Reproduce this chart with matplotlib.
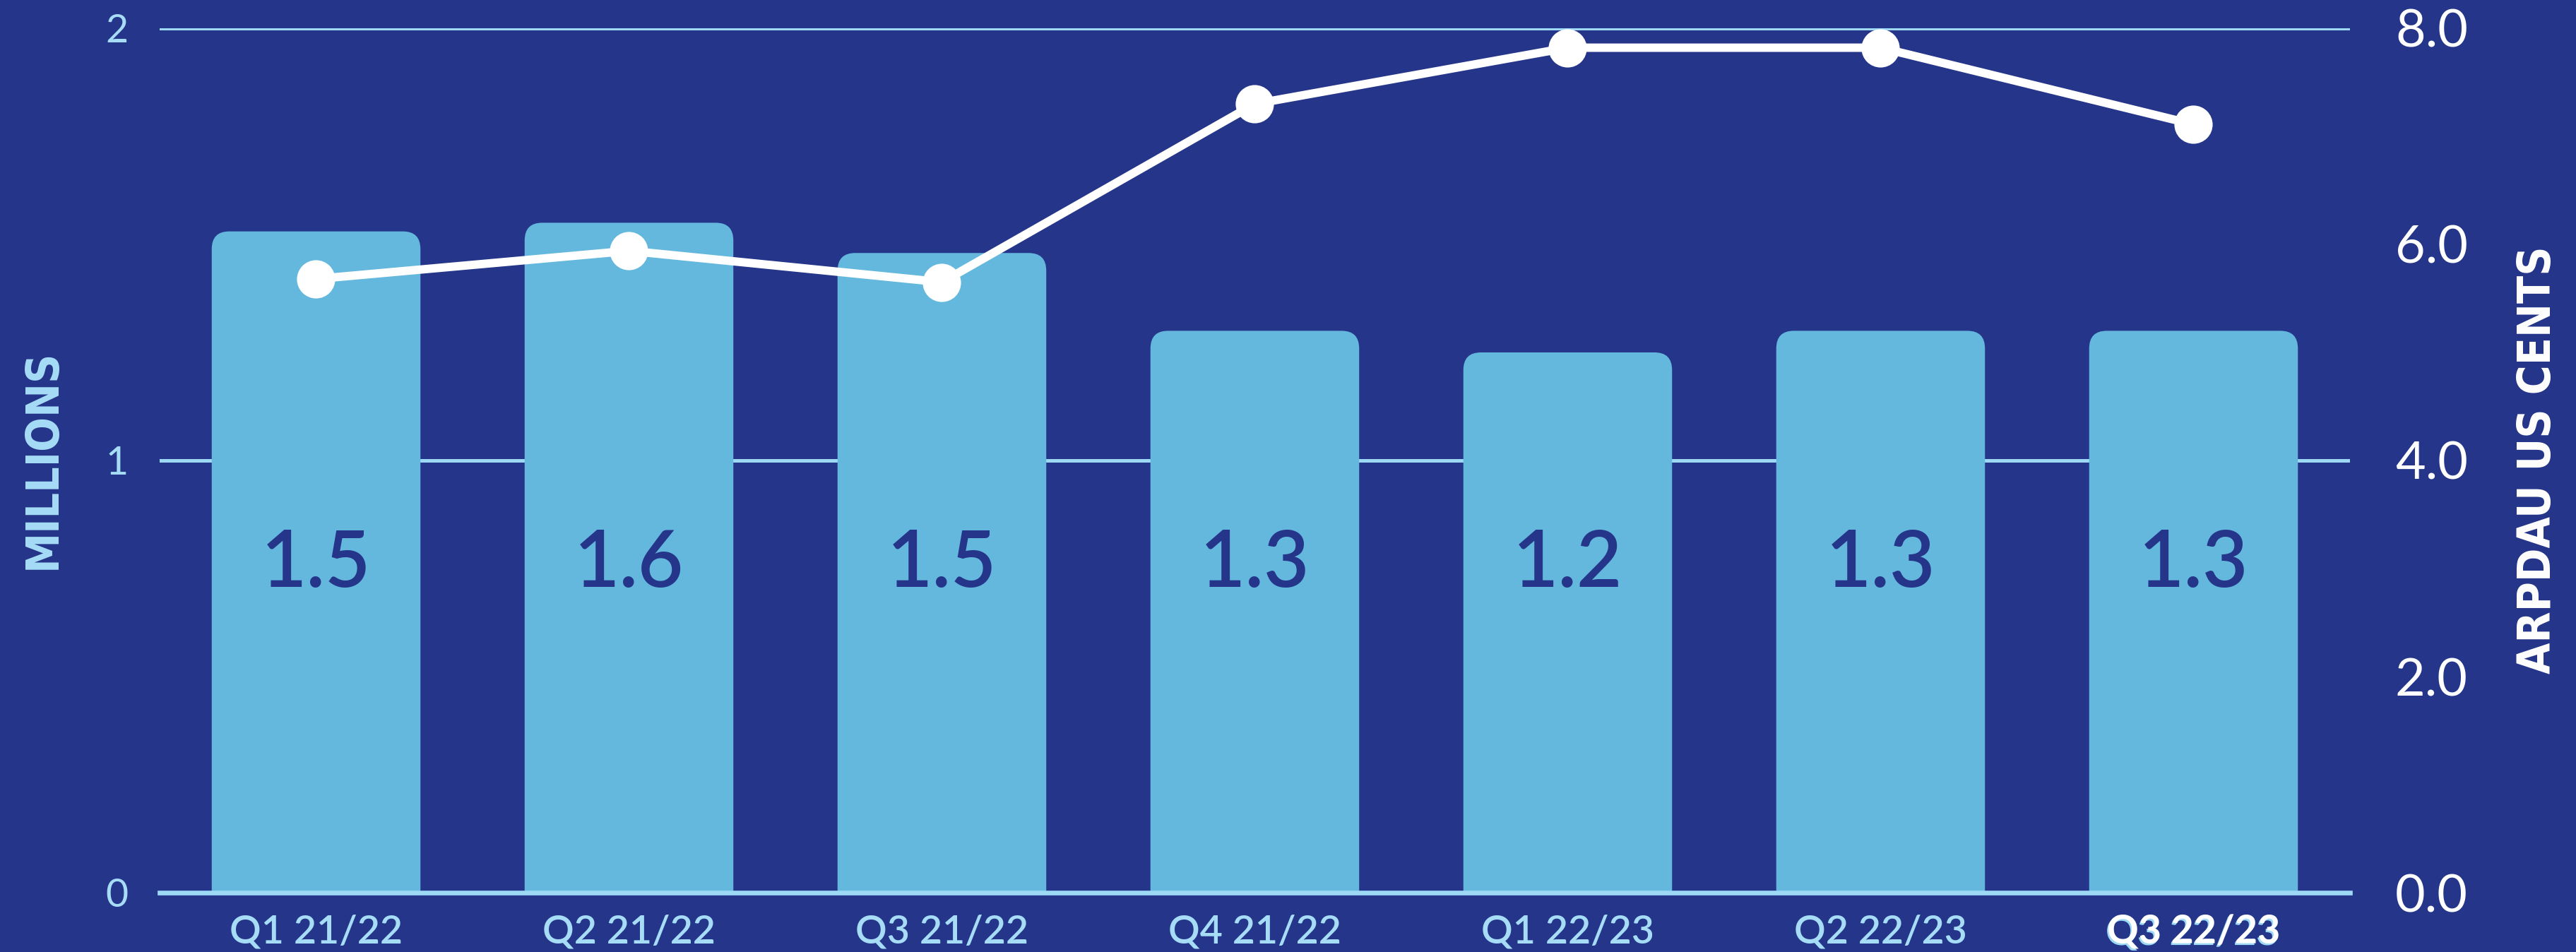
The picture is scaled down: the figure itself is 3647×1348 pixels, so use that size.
import matplotlib
matplotlib.use("Agg")
import matplotlib.pyplot as plt
from matplotlib.patches import FancyBboxPatch
import matplotlib.patheffects as pe

# ---- data ----
categories = ["Q1 21/22", "Q2 21/22", "Q3 21/22", "Q4 21/22", "Q1 22/23", "Q2 22/23", "Q3 22/23"]
dau_millions = [1.53, 1.55, 1.48, 1.30, 1.25, 1.30, 1.30]
dau_labels = ["1.5", "1.6", "1.5", "1.3", "1.2", "1.3", "1.3"]
arpdau_cents = [5.68, 5.94, 5.65, 7.30, 7.82, 7.82, 7.11]
left_ticks = [0, 1, 2]
right_ticks = [0.0, 2.0, 4.0, 6.0, 8.0]

# ---- styles ----
BG = "#24358A"
BAR = "#65B8DD"
GRID = "#9DD8F5"
LTEXT = "#A6DCF6"
NAVY = "#24358A"
NUMFONT = ["Lato", "DejaVu Sans"]
NARROW = ["DejaVu Sans"]

DPI = 200
fig = plt.figure(figsize=(3647 / DPI, 1348 / DPI), dpi=DPI, facecolor=BG)
ax = fig.add_axes([226 / 3647, 84 / 1348, (3327 - 226) / 3647, (1264 - 40) / 1348])
ax.set_facecolor(BG)
ax2 = ax.twinx()

x = list(range(len(categories)))
bars = ax.bar(x, dau_millions, width=0.667, color=BAR, zorder=2)

# replace rectangles with round-topped boxes
rad = 0.056
aspect = 0.73
for b in bars:
    x0, w, h = b.get_x(), b.get_width(), b.get_height()
    ext = rad * aspect * 2
    fb = FancyBboxPatch((x0, -ext), w, h + ext,
                        boxstyle=f"round,pad=0,rounding_size={rad}",
                        mutation_aspect=aspect, facecolor=BAR, edgecolor="none",
                        zorder=2)
    ax.add_patch(fb)
    b.set_visible(False)

for xi, lab in zip(x, dau_labels):
    ax.text(xi, 0.76, lab, ha="center", va="center", color=NAVY,
            fontsize=40, family=NUMFONT, fontweight="semibold", zorder=3)

ax.set_xlim(-0.5, len(categories) - 0.5)
ax.set_ylim(0, 2)
ax.set_yticks(left_ticks)
ax.set_yticklabels([str(t) for t in left_ticks])
ax.grid(axis="y", color=GRID, linewidth=1.8)
ax.set_axisbelow(True)
for s in ["top", "left", "right"]:
    ax.spines[s].set_visible(False)
ax.spines["bottom"].set_color(GRID)
ax.spines["bottom"].set_linewidth(2.4)
ax.spines["bottom"].set_zorder(4)
ax.tick_params(axis="y", length=0, pad=16, labelcolor=LTEXT, labelsize=20)
for t in ax.get_yticklabels():
    t.set_family(NUMFONT)

ax.set_xticks(x)
ax.set_xticklabels(categories)
ax.tick_params(axis="x", length=0, pad=11, labelcolor=LTEXT, labelsize=20)
for i, t in enumerate(ax.get_xticklabels()):
    t.set_family(NUMFONT)
    t.set_fontweight("semibold")
    if i == len(categories) - 1:
        t.set_color("white")
        t.set_fontweight("bold")
        t.set_path_effects([pe.SimplePatchShadow(offset=(-0.7, -0.9), shadow_rgbFace=GRID, alpha=1.0),
                            pe.Normal()])

ax2.plot(x, arpdau_cents, color="white", linewidth=4.3, marker="o",
         markersize=18.5, markerfacecolor="white", markeredgecolor="white",
         zorder=5, clip_on=False)
ax2.set_ylim(0, 8)
ax2.set_yticks(right_ticks)
ax2.set_yticklabels([f"{t:.1f}" for t in right_ticks])
for s in ["top", "left", "right", "bottom"]:
    ax2.spines[s].set_visible(False)
ax2.tick_params(axis="y", length=0, pad=23, labelcolor="white", labelsize=26.5)
for t in ax2.get_yticklabels():
    t.set_family(NUMFONT)
    t.set_fontweight("normal")

fig.text(61 / 3647, 1 - 650 / 1348, "MILLIONS", rotation=90, ha="center", va="center",
         color=LTEXT, fontsize=23, family=NARROW, fontweight="heavy", fontstretch="condensed")
fig.text(3593 / 3647, 1 - 651 / 1348, "ARPDAU US CENTS", rotation=90, ha="center", va="center",
         color="white", fontsize=23, family=NARROW, fontweight="heavy", fontstretch="condensed")

fig.savefig("out.png", dpi=DPI, facecolor=BG)
